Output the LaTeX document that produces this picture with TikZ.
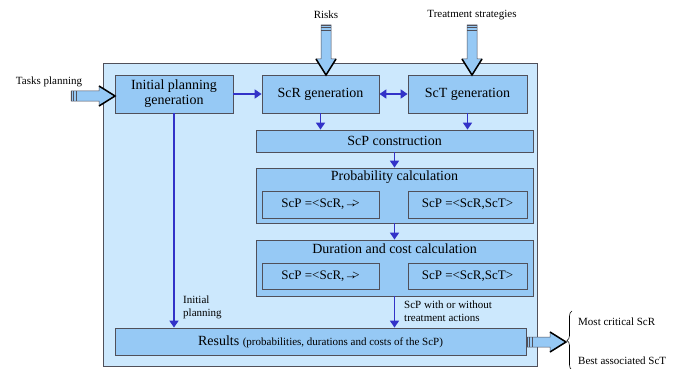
\documentclass[tikz,border=0pt]{standalone}
\usepackage{fontspec}
\setmainfont{Liberation Serif}
\usetikzlibrary{arrows.meta,decorations.pathreplacing}

\definecolor{bgblue}{RGB}{204,232,253}
\definecolor{boxblue}{RGB}{150,201,245}
\definecolor{flowblue}{RGB}{50,50,200}
\definecolor{edgegray}{RGB}{80,80,90}

\tikzset{
  box/.style={draw=edgegray, fill=boxblue, line width=0.8pt, inner sep=0pt, align=center, font=\fontsize{14}{15}\selectfont},
  subbox/.style={box, minimum width=117pt, minimum height=27pt, font=\fontsize{13}{15}\selectfont},
  flow/.style={draw=flowblue, line width=1.6pt, ->},
  lbl/.style={font=\fontsize{11}{13}\selectfont, inner sep=0pt, align=left},
  pics/fatarrow/.style={code={
    \draw[fill=boxblue, draw=edgegray, line width=0.5pt] (0,-5) -- (#1-16,-5) -- (#1-16,-10) -- (#1,0) -- (#1-16,10) -- (#1-16,5) -- (0,5) -- cycle;
    \foreach \s in {0,2.5,5} \draw[edgegray, line width=0.5pt] (\s,-5) -- (\s,5);
    \draw[black, line width=1.5pt] (#1-16,-10) -- (#1,0) -- (#1-16,10);
  }}
}

\begin{document}
\begin{tikzpicture}[x=1pt, y=-1pt, >={Triangle[length=7pt,width=9pt]}]
\useasboundingbox (0,0) rectangle (683,369);

% frame
\draw[fill=bgblue, draw=edgegray, line width=0.8pt] (103,63) rectangle (537,366);

% boxes
\node[box, minimum width=118pt, minimum height=38pt] (init) at (174,94) {Initial planning\\generation};
\node[box, minimum width=117pt, minimum height=38pt] (scr) at (320.5,94) {ScR generation};
\node[box, minimum width=119pt, minimum height=38pt] (sct) at (467.5,94) {ScT generation};
\node[box, minimum width=277pt, minimum height=22pt] (scp) at (394.5,141) {ScP construction};

\node[box, minimum width=277pt, minimum height=55pt] (prob) at (394.5,195.5) {};
\node[box, draw=none, fill=none] (probtitle) at (394.5,177) {Probability calculation};
\node[subbox] (proba) at (320.5,204.5) {ScP =<ScR,→\kern-0.4em>};
\node[subbox, minimum width=119pt] (probb) at (467.5,204.5) {ScP =<ScR,ScT>};

\node[box, minimum width=277pt, minimum height=56pt] (dur) at (394.5,268) {};
\node[box, draw=none, fill=none] (durtitle) at (394.5,249) {Duration and cost calculation};
\node[subbox, minimum height=26pt] (dura) at (320.5,276) {ScP =<ScR,→\kern-0.4em>};
\node[subbox, minimum width=119pt, minimum height=26pt] (durb) at (467.5,276) {ScP =<ScR,ScT>};

\node[box, minimum width=411pt, minimum height=27pt] (res) at (320.5,341.5) {Results {\fontsize{11}{13}\selectfont(probabilities, durations and costs of the ScP)}};

% flows
\draw[flow] (init) -- (scr);
\draw[flow, <->] (scr) -- (sct);
\draw[flow] (scr.south) -- (scr.south |- scp.north);
\draw[flow] (sct.south) -- (sct.south |- scp.north);
\draw[flow] (scp) -- (prob);
\draw[flow] (prob) -- (dur);
\draw[flow] (dur.south) -- (dur.south |- res.north);
\draw[flow] (init.south) -- (init.south |- res.north);

% labels
\node[lbl, anchor=west] (initlbl) at (183,307) {Initial\\planning};
\node[lbl, anchor=west] (scplbl) at (404,311) {ScP with or without\\treatment actions};

% inputs and output
\node[lbl] (tasks) at (49,82) {Tasks planning};
\pic at (71,96) {fatarrow=44};
\node[lbl] (risks) at (326,15) {Risks};
\pic[rotate=-90] at (326,25) {fatarrow=50};
\node[lbl] (treat) at (472,15) {Treatment strategies};
\pic[rotate=-90] at (472,25) {fatarrow=50};
\pic at (527,342) {fatarrow=39};

% brace
\draw[decorate, decoration={brace, amplitude=5pt}, line width=0.6pt] (572,370) -- (572,311);
\node[lbl, anchor=west] (crit) at (578,322) {Most critical ScR};
\node[lbl, anchor=west] (best) at (578,361) {Best associated ScT};
\end{tikzpicture}
\end{document}
